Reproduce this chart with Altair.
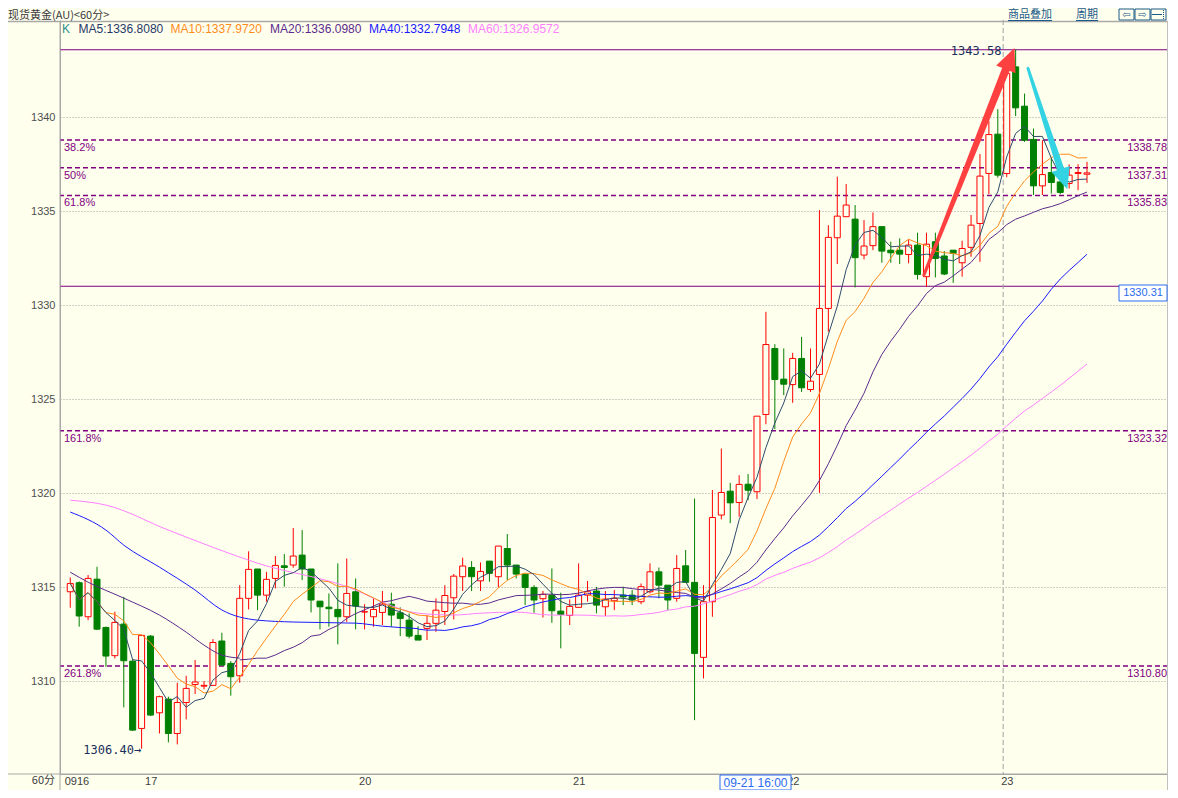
import altair as alt
import pandas as pd

# ---------------- data ----------------
opens = [1314.75, 1315.23, 1313.42, 1315.42, 1312.85, 1311.35, 1313.03, 1311.06, 1307.48, 1312.39,
         1308.31, 1309.04, 1307.21, 1308.86, 1309.82, 1309.73, 1309.77, 1312.13, 1310.94, 1310.28,
         1314.40, 1315.96, 1314.57, 1315.46, 1316.13, 1316.17, 1316.70, 1315.96, 1314.25, 1313.93,
         1313.81, 1313.42, 1314.75, 1313.67, 1313.42, 1313.65, 1314.09, 1313.63, 1313.24, 1312.43,
         1312.80, 1313.07, 1313.70, 1314.43, 1315.55, 1316.04, 1315.33, 1316.38, 1315.55, 1317.05,
         1316.17, 1315.69, 1314.98, 1314.38, 1314.57, 1313.72, 1313.49, 1313.92, 1314.57, 1314.79,
         1313.95, 1314.27, 1314.57, 1314.57, 1314.22, 1314.75, 1315.81, 1315.10, 1314.40, 1316.13,
         1315.25, 1311.26, 1314.22, 1318.83, 1320.10, 1319.50, 1320.47, 1320.07, 1324.18, 1327.69,
         1326.06, 1325.77, 1327.16, 1325.51, 1326.31, 1329.82, 1333.58, 1334.70, 1334.57, 1332.66,
         1333.16, 1334.17, 1332.92, 1332.92, 1332.69, 1333.19, 1331.51, 1333.37, 1332.61, 1332.92,
         1332.25, 1333.07, 1334.34, 1337.00, 1339.09, 1337.00, 1342.67, 1340.58, 1338.81, 1336.34,
         1337.05, 1336.55, 1336.47, 1337.00, 1336.96]
highs = [1315.51, 1315.30, 1315.64, 1316.08, 1312.90, 1313.69, 1314.48, 1311.15, 1312.43, 1312.45,
         1309.22, 1309.17, 1309.91, 1310.28, 1311.12, 1310.00, 1312.23, 1312.57, 1311.06, 1315.10,
         1316.90, 1315.96, 1315.81, 1316.65, 1316.75, 1318.14, 1318.03, 1315.96, 1314.25, 1314.66,
         1316.26, 1316.52, 1315.46, 1314.09, 1314.40, 1314.79, 1314.70, 1313.92, 1313.60, 1312.92,
         1313.51, 1314.40, 1315.10, 1315.69, 1316.56, 1316.38, 1316.31, 1316.38, 1317.18, 1317.82,
         1316.17, 1315.69, 1315.10, 1314.79, 1315.99, 1314.70, 1314.34, 1316.26, 1315.32, 1315.01,
         1314.79, 1314.84, 1315.02, 1314.84, 1315.19, 1316.26, 1316.04, 1315.10, 1316.70, 1316.97,
         1319.71, 1315.10, 1320.16, 1322.37, 1320.54, 1320.95, 1321.01, 1324.09, 1329.64, 1327.92,
         1327.69, 1327.46, 1328.31, 1327.69, 1335.05, 1334.25, 1336.83, 1336.44, 1335.32, 1334.52,
         1334.93, 1334.17, 1333.37, 1333.55, 1333.49, 1333.85, 1333.85, 1333.85, 1332.87, 1332.92,
         1333.42, 1334.79, 1338.03, 1339.80, 1340.42, 1342.37, 1343.58, 1341.25, 1339.39, 1338.77,
         1337.80, 1336.60, 1337.48, 1337.49, 1337.62]
lows = [1313.90, 1312.89, 1313.24, 1312.71, 1310.76, 1311.20, 1308.60, 1307.35, 1306.40, 1308.15,
        1307.21, 1306.74, 1306.63, 1307.96, 1309.31, 1309.56, 1309.75, 1310.85, 1309.22, 1309.91,
        1313.81, 1313.77, 1314.22, 1314.93, 1315.02, 1316.03, 1315.37, 1313.65, 1312.75, 1312.89,
        1311.95, 1313.15, 1312.75, 1312.75, 1312.89, 1312.98, 1312.89, 1312.39, 1312.27, 1312.18,
        1312.18, 1312.62, 1312.98, 1313.28, 1314.79, 1314.79, 1314.79, 1315.28, 1314.98, 1315.37,
        1315.46, 1314.04, 1313.63, 1313.38, 1313.10, 1311.74, 1312.98, 1313.92, 1314.22, 1313.60,
        1313.46, 1313.77, 1314.04, 1314.04, 1314.09, 1314.66, 1314.40, 1313.77, 1314.22, 1315.25,
        1307.92, 1310.14, 1313.42, 1318.60, 1318.40, 1318.74, 1319.62, 1319.68, 1323.66, 1323.40,
        1325.21, 1324.80, 1325.38, 1325.38, 1320.01, 1328.58, 1332.18, 1334.70, 1330.94, 1332.43,
        1332.92, 1332.25, 1332.25, 1332.18, 1332.22, 1331.36, 1330.97, 1331.47, 1331.59, 1331.18,
        1331.51, 1332.57, 1332.30, 1335.90, 1336.78, 1336.80, 1340.05, 1338.68, 1335.85, 1335.85,
        1335.93, 1335.90, 1336.20, 1336.11, 1336.50]
closes = [1315.19, 1313.46, 1315.46, 1312.76, 1311.33, 1313.12, 1311.08, 1307.39, 1312.43, 1308.19,
          1309.17, 1307.21, 1308.86, 1309.61, 1309.95, 1309.77, 1312.05, 1310.85, 1310.23, 1314.40,
          1315.94, 1314.57, 1315.41, 1316.15, 1316.04, 1316.65, 1315.96, 1314.31, 1313.95, 1313.85,
          1313.42, 1314.66, 1313.99, 1313.69, 1313.81, 1314.09, 1313.51, 1313.33, 1312.39, 1312.18,
          1313.07, 1313.77, 1314.55, 1315.58, 1316.12, 1315.55, 1315.83, 1315.73, 1317.18, 1316.17,
          1315.69, 1314.98, 1314.31, 1314.61, 1313.74, 1313.54, 1313.97, 1314.57, 1314.75, 1314.04,
          1314.36, 1314.40, 1314.48, 1314.31, 1315.02, 1315.81, 1315.10, 1314.31, 1315.99, 1315.25,
          1311.47, 1314.22, 1318.70, 1320.03, 1319.48, 1320.46, 1320.15, 1324.09, 1327.90, 1326.04,
          1325.79, 1327.16, 1325.60, 1325.95, 1329.82, 1333.60, 1334.73, 1335.32, 1332.52, 1333.14,
          1334.17, 1332.87, 1332.78, 1332.71, 1333.19, 1331.63, 1333.24, 1332.48, 1331.65, 1332.75,
          1333.01, 1334.25, 1336.86, 1339.07, 1336.91, 1342.32, 1340.49, 1338.77, 1336.34, 1336.94,
          1336.52, 1335.99, 1336.91, 1337.05, 1337.03]

# moving averages before enough history is on screen
ma20_early_k = [0, 2, 6, 10, 13, 15, 17, 19]
ma20_early_v = [1315.79, 1315.26, 1314.41, 1313.51, 1312.60, 1311.91, 1311.38, 1311.22]
ma40_early_k = [0, 4, 6, 10, 14, 17, 21, 25, 32, 35, 39]
ma40_early_v = [1318.99, 1318.03, 1317.23, 1316.06, 1314.84, 1313.78, 1313.24, 1313.14, 1313.08, 1312.92, 1312.79]
ma60_early_k = [0, 4, 11, 21, 32, 35, 39, 43, 46, 50, 54, 57, 59]
ma60_early_v = [1319.62, 1319.36, 1318.03, 1316.27, 1314.84, 1314.20, 1313.61, 1313.51, 1313.61, 1313.67, 1313.51, 1313.51, 1313.48]

fib_levels = [1338.78, 1337.31, 1335.83, 1323.32, 1310.80]
fib_pct = ["38.2%", "50%", "61.8%", "161.8%", "261.8%"]
fib_solid = [1343.58, 1331.00]

day_k = [0, 9, 33, 57, 81, 105]
day_lbl = ["0916", "17", "20", "21", "22", "23"]
yticks = [1310, 1315, 1320, 1325, 1330, 1335, 1340]

legend_txt = ["K", "MA5:1336.8080", "MA10:1337.9720", "MA20:1336.0980", "MA40:1332.7948", "MA60:1326.9572"]

# annotation arrows (index, price, width)
red_arrow_k = [95.71, 104.9]
red_arrow_v = [1331.59, 1342.53]
red_arrow_w = [3, 8]
cyan_arrow_k = [107.38, 111.02]
cyan_arrow_v = [1342.59, 1337.27]
cyan_arrow_w = [3, 7]

# ---------------- styles ----------------
BG = "#FFFFEE"
UP = "#FF0000"
DN = "#008000"
PURPLE = "#800080"
C_MA5 = "#2E4B6B"
C_MA10 = "#FF8C1A"
C_MA20 = "#5B2A8C"
C_MA40 = "#1A1AFF"
C_MA60 = "#FF80FF"
FONT = "Liberation Sans"
CJK = "Noto Sans CJK SC"

PW, PH = 1108, 754
xs = alt.Scale(domain=[-0.589, -0.589 + PW / 9.0], nice=False, zero=False)
ys = alt.Scale(domain=[1305.056, 1345.163], nice=False, zero=False)

n = len(closes)
df = pd.DataFrame({"k": list(range(n)), "open": opens, "high": highs, "low": lows, "close": closes})
df["dir"] = ["up" if c >= o else "down" for o, c in zip(opens, closes)]

xaxis = alt.Axis(values=day_k, labelExpr="{" + ",".join(f"'{k}':'{l}'" for k, l in zip(day_k, day_lbl)) + "}[''+datum.value]",
                 grid=False, ticks=False, domainColor="#A8A8A8", labelAlign="left", labelOffset=-6,
                 labelPadding=1, labelFont=FONT, labelFontSize=11, labelColor="#404040", title=None)
yaxis = alt.Axis(values=yticks, format="d", grid=True, gridDash=[1, 2], gridColor="#A0A0A0", ticks=False,
                 domainColor="#A8A8A8", labelPadding=5, labelFont=FONT, labelFontSize=11,
                 labelColor="#505050", title=None)

X = alt.X("k:Q", scale=xs, axis=xaxis, title=None)
one = pd.DataFrame({"a": [0]})


def txt(s, ax, ay, color="#333333", size=12, align="left", font=FONT, baseline="middle"):
    return alt.Chart(one).mark_text(text=s, align=align, baseline=baseline, font=font,
                                    fontSize=size, color=color).encode(
        x=alt.value(ax - 60), y=alt.value(ay - 20))


def hrule(x1, x2, ay, color="#A0A0A0", w=1):
    return alt.Chart(one).mark_rule(color=color, strokeWidth=w).encode(
        x=alt.value(x1 - 60), x2=alt.value(x2 - 60), y=alt.value(ay - 20))


def vrule(ax, y1, y2, color="#A0A0A0", w=1, dash=None):
    kw = {"strokeDash": dash} if dash else {}
    return alt.Chart(one).mark_rule(color=color, strokeWidth=w, **kw).encode(
        x=alt.value(ax - 60), y=alt.value(y1 - 20), y2=alt.value(y2 - 20))


def box(x1, x2, y1, y2, stroke, fill="#FFFFFF"):
    return alt.Chart(one).mark_rect(fill=fill, stroke=stroke, strokeWidth=1).encode(
        x=alt.value(x1 - 60), x2=alt.value(x2 - 60), y=alt.value(y1 - 20), y2=alt.value(y2 - 20))


# ---------------- layers ----------------
layers = []

# axes (grid) carrier
axis_layer = alt.Chart(df).mark_point(opacity=0).encode(x=X, y=alt.Y("close:Q", scale=ys, axis=yaxis, title=None))
layers.append(axis_layer)

# fib levels
fdf = pd.DataFrame({"v": fib_levels, "pct": fib_pct, "lab": [f"{v:.2f}" for v in fib_levels]})
sdf = pd.DataFrame({"v": fib_solid})
layers.append(alt.Chart(fdf).mark_rule(color=PURPLE, strokeWidth=1.5, strokeDash=[5, 3]).encode(y=alt.Y("v:Q", scale=ys)))
layers.append(alt.Chart(sdf).mark_rule(color=PURPLE, strokeWidth=1.2).encode(y=alt.Y("v:Q", scale=ys)))
layers.append(alt.Chart(fdf).mark_text(align="left", baseline="top", dy=2, font=FONT, fontSize=11, color=PURPLE).encode(
    x=alt.value(4), y=alt.Y("v:Q", scale=ys), text="pct:N"))
layers.append(alt.Chart(fdf).mark_text(align="right", baseline="top", dy=2, font=FONT, fontSize=11, color=PURPLE).encode(
    x=alt.value(PW - 1), y=alt.Y("v:Q", scale=ys), text="lab:N"))

# day separator for the 23rd
layers.append(alt.Chart(pd.DataFrame({"k": [104.6]})).mark_rule(color="#A0A0A0", strokeDash=[5, 3]).encode(x=X))

# candles
color_line = alt.Scale(domain=["up", "down"], range=[UP, DN])
color_fill = alt.Scale(domain=["up", "down"], range=[BG, DN])
layers.append(alt.Chart(df).mark_rule(strokeWidth=1).encode(
    x=X, y=alt.Y("low:Q", scale=ys), y2="high:Q", color=alt.Color("dir:N", scale=color_line, legend=None)))
layers.append(alt.Chart(df).mark_bar(size=6, strokeWidth=1).encode(
    x=X, y=alt.Y("open:Q", scale=ys), y2="close:Q",
    fill=alt.Fill("dir:N", scale=color_fill, legend=None),
    stroke=alt.Stroke("dir:N", scale=color_line, legend=None)))

# moving averages
def ma_window(win, color, start):
    return alt.Chart(df).transform_window(
        ma="mean(close)", frame=[-(win - 1), 0], sort=[alt.SortField("k")]
    ).transform_filter(f"datum.k >= {start}").mark_line(color=color, strokeWidth=1).encode(
        x=X, y=alt.Y("ma:Q", scale=ys))


def ma_early(ks, vs, color):
    return alt.Chart(pd.DataFrame({"k": ks, "ma": vs})).mark_line(
        color=color, strokeWidth=1, interpolate="monotone").encode(x=X, y=alt.Y("ma:Q", scale=ys))


layers.append(ma_early(ma60_early_k, ma60_early_v, C_MA60))
layers.append(ma_window(60, C_MA60, 59))
layers.append(ma_early(ma40_early_k, ma40_early_v, C_MA40))
layers.append(ma_window(40, C_MA40, 39))
layers.append(ma_early(ma20_early_k, ma20_early_v, C_MA20))
layers.append(ma_window(20, C_MA20, 19))
layers.append(ma_window(10, C_MA10, 0))
layers.append(ma_window(5, C_MA5, 0))

# arrows
rdf = pd.DataFrame({"k": red_arrow_k, "v": red_arrow_v, "w": red_arrow_w})
cdf = pd.DataFrame({"k": cyan_arrow_k, "v": cyan_arrow_v, "w": cyan_arrow_w})
HEAD = "M0,-1L0.8,0.77L-0.8,0.77Z"
layers.append(alt.Chart(rdf).mark_trail(color="#FF4040").encode(
    x=X, y=alt.Y("v:Q", scale=ys), size=alt.Size("w:Q", scale=None, legend=None)))
layers.append(alt.Chart(pd.DataFrame({"k": [105.32], "v": [1343.03]})).mark_point(
    shape=HEAD, filled=True, size=676, angle=21.9, color="#FF4040", opacity=1, strokeWidth=0).encode(
    x=X, y=alt.Y("v:Q", scale=ys)))
layers.append(alt.Chart(cdf).mark_trail(color="#33D3E3").encode(
    x=X, y=alt.Y("v:Q", scale=ys), size=alt.Size("w:Q", scale=None, legend=None)))
layers.append(alt.Chart(pd.DataFrame({"k": [111.37], "v": [1336.77]})).mark_point(
    shape=HEAD, filled=True, size=576, angle=161.8, color="#33D3E3", opacity=1, strokeWidth=0).encode(
    x=X, y=alt.Y("v:Q", scale=ys)))

# price annotations
adf = pd.DataFrame({"k": [104.4, 7.95], "v": [1343.58, 1306.40], "t": ["1343.58", "1306.40\u2192"]})
layers.append(alt.Chart(adf).mark_text(align="right", baseline="middle", font="DejaVu Sans Mono",
                                       fontSize=12, color="#1A2F5A", dy=1).encode(
    x=X, y=alt.Y("v:Q", scale=ys), text="t:N"))

# frame lines
layers.append(hrule(8, 1168, 21.5, "#A8A8A8", 1.5))
layers.append(vrule(60, 21, 790, "#A8A8A8"))
layers.append(hrule(8, 1168, 774, "#A8A8A8"))
layers.append(vrule(1167.5, 21, 790, "#C0C0C0"))

# header (text bottoms sit on the header separator)
layers.append(txt("现货黄金(AU)<60分>", 8, 20.5, "#3A3A3A", 11, font=CJK, baseline="bottom"))
layers.append(txt("商品叠加", 1008, 20, "#1A5A8A", 11, font=CJK, baseline="bottom"))
layers.append(hrule(1008, 1052, 20.5, "#1A5A8A"))
layers.append(txt("周期", 1076, 20, "#1A5A8A", 11, font=CJK, baseline="bottom"))
layers.append(hrule(1076, 1098, 20.5, "#1A5A8A"))
for bx, sym in [(1119, "\u21e6"), (1135, "\u21e8"), (1151, "")]:
    layers.append(box(bx, bx + 15, 9, 20, "#1A5A8A", BG))
    if sym:
        layers.append(txt(sym, bx + 7.5, 15, "#1A5A8A", 10, align="center", font="DejaVu Sans"))
layers.append(hrule(1152, 1162, 14.5, "#1A5A8A"))
layers.append(vrule(1163.5, 10, 19, "#1A5A8A", 1, [1, 1]))

# legend row
leg_x = [62, 78.5, 170.5, 270, 369, 468]
leg_c = ["#2E8B8B", "#1F3868", C_MA10, C_MA20, C_MA40, C_MA60]
for s, lx, lc in zip(legend_txt, leg_x, leg_c):
    layers.append(txt(s, lx, 29, lc, 12))

# crosshair labels
layers.append(box(1119, 1167, 285, 301, "#2A6CF0"))
layers.append(txt("1330.31", 1143, 293, "#2A6CF0", 11, align="center"))
layers.append(box(720, 791, 775, 790, "#2A6CF0"))
layers.append(txt("09-21 16:00", 755.5, 782.5, "#2A6CF0", 12, align="center"))

# bottom-left period label
layers.append(txt("60分", 55, 781, "#404040", 11, align="right", font=CJK))

chart = alt.layer(*layers).properties(
    width=PW, height=PH,
    autosize=alt.AutoSizeParams(type="none"),
    padding={"left": 52, "top": 12, "right": 0, "bottom": 16},
    background=BG,
).configure_view(strokeWidth=0)

chart.save("out.html", embed_options={"renderer": "svg", "actions": False})
